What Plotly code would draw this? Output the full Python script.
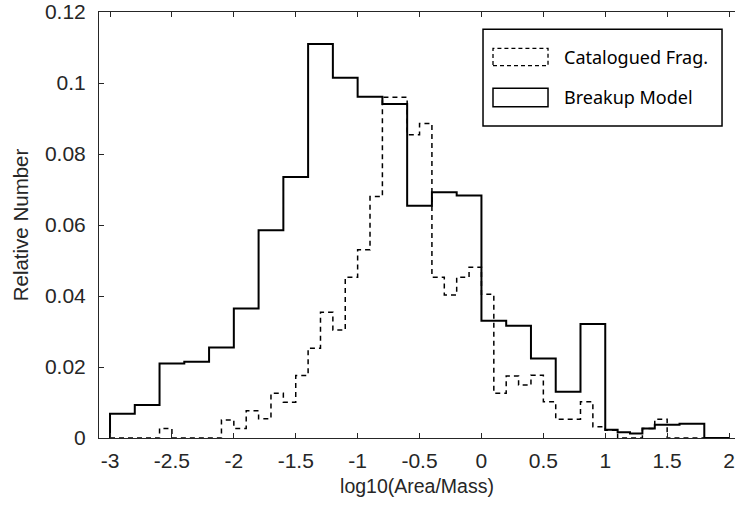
import plotly.graph_objects as go

# Bin edges for log10(Area/Mass), 0.1 wide from -3 to 2
BIN_EDGES = [round(-3.0 + 0.1 * i, 1) for i in range(51)]

# Relative number per bin: catalogued fragments
CATALOGUED = [
    0.0, 0.0, 0.0, 0.0, 0.0027, 0.0, 0.0, 0.0, 0.0, 0.0051,
    0.0027, 0.0077, 0.0054, 0.0126, 0.0101, 0.0176, 0.0253, 0.0354, 0.0304, 0.0453,
    0.0530, 0.0680, 0.0960, 0.0960, 0.0854, 0.0886, 0.0453, 0.0403, 0.0453, 0.0481,
    0.0405, 0.0126, 0.0175, 0.0149, 0.0177, 0.0102, 0.0053, 0.0053, 0.0102, 0.0032,
    0.0022, 0.0, 0.0, 0.0027, 0.0053, 0.0, 0.0, 0.0, 0.0, 0.0,
]

# Relative number per bin: breakup model
BREAKUP = [
    0.0068, 0.0068, 0.0093, 0.0093, 0.0210, 0.0210, 0.0215, 0.0215, 0.0255, 0.0255,
    0.0365, 0.0365, 0.0585, 0.0585, 0.0735, 0.0735, 0.1110, 0.1110, 0.1015, 0.1015,
    0.0961, 0.0961, 0.0941, 0.0941, 0.0654, 0.0654, 0.0692, 0.0692, 0.0683, 0.0683,
    0.0330, 0.0330, 0.0316, 0.0316, 0.0224, 0.0224, 0.0130, 0.0130, 0.0321, 0.0321,
    0.0023, 0.0016, 0.0013, 0.0027, 0.0037, 0.0037, 0.0040, 0.0040, 0.0, 0.0,
]

X_TICKS = [-3, -2.5, -2, -1.5, -1, -0.5, 0, 0.5, 1, 1.5, 2]
X_TICK_TEXT = ["-3", "-2.5", "-2", "-1.5", "-1", "-0.5", "0", "0.5", "1", "1.5", "2"]
Y_TICKS = [0, 0.02, 0.04, 0.06, 0.08, 0.1, 0.12]
Y_TICK_TEXT = ["0", "0.02", "0.04", "0.06", "0.08", "0.1", "0.12"]

LEGEND_LABELS = ["Catalogued Frag.", "Breakup Model"]

AXIS_COLOR = "#262626"
FONT_FAMILY = "Liberation Sans, Arial, sans-serif"
TICK_FONT = dict(family=FONT_FAMILY, size=21, color=AXIS_COLOR)


def stairs(edges, values):
    """Outline of a histogram: rise at the first edge, step across each bin, drop at the end."""
    xs = [edges[0]] + list(edges[:-1]) + [edges[-1], edges[-1]]
    ys = [0.0] + list(values) + [values[-1], 0.0]
    return xs, ys


fig = go.Figure()

cx, cy = stairs(BIN_EDGES, CATALOGUED)
fig.add_trace(go.Scatter(
    x=cx, y=cy, mode="lines", line_shape="hv",
    line=dict(color="black", width=1.5, dash="5px,4px"),
    name=LEGEND_LABELS[0], showlegend=False, hoverinfo="skip",
))

bx, by = stairs(BIN_EDGES, BREAKUP)
fig.add_trace(go.Scatter(
    x=bx, y=by, mode="lines", line_shape="hv",
    line=dict(color="black", width=2),
    name=LEGEND_LABELS[1], showlegend=False, hoverinfo="skip",
))

# Boxed legend with patch-style samples, placed in paper coordinates
legend_box = dict(x0=0.6038, x1=0.9796, y0=0.7324, y1=0.9594)
samples = [
    dict(x0=0.6195, x1=0.7060, y0=0.8740, y1=0.9148, dash="4px,3px", width=1.3),
    dict(x0=0.6195, x1=0.7060, y0=0.7777, y1=0.8209, dash="solid", width=1.5),
]
label_y = [0.8944, 0.7993]

fig.add_shape(type="rect", xref="paper", yref="paper", **legend_box,
              line=dict(color="black", width=1.5), fillcolor="white", layer="above")
for s, ly, text in zip(samples, label_y, LEGEND_LABELS):
    fig.add_shape(type="rect", xref="paper", yref="paper",
                  x0=s["x0"], x1=s["x1"], y0=s["y0"], y1=s["y1"],
                  line=dict(color="black", width=s["width"], dash=s["dash"]),
                  fillcolor="white", layer="above")
    fig.add_annotation(xref="paper", yref="paper", x=0.728, y=ly, text=text,
                       showarrow=False, xanchor="left", yanchor="middle",
                       font=dict(family="Noto Sans, sans-serif", size=18, color="black"))

fig.update_layout(
    width=735, height=506,
    margin=dict(l=99, r=0, t=12, b=68),
    paper_bgcolor="white", plot_bgcolor="white",
    showlegend=False,
)

fig.update_xaxes(
    range=[-3.089, 2.048],
    tickmode="array", tickvals=X_TICKS, ticktext=X_TICK_TEXT,
    ticks="inside", ticklen=5, tickwidth=1, tickcolor=AXIS_COLOR,
    showline=True, linecolor=AXIS_COLOR, linewidth=1, mirror="ticks",
    showgrid=False, zeroline=False,
    tickfont=TICK_FONT, ticklabelstandoff=4,
    title=dict(text="log10(Area/Mass)", font=dict(family=FONT_FAMILY, size=19.5, color=AXIS_COLOR),
               standoff=8),
)
fig.update_yaxes(
    range=[0, 0.12],
    tickmode="array", tickvals=Y_TICKS, ticktext=Y_TICK_TEXT,
    ticks="inside", ticklen=5, tickwidth=1, tickcolor=AXIS_COLOR,
    showline=True, linecolor=AXIS_COLOR, linewidth=1,
    showgrid=False, zeroline=False,
    tickfont=TICK_FONT, ticklabelstandoff=8,
    title=dict(text="Relative Number", font=dict(family=FONT_FAMILY, size=20.5, color=AXIS_COLOR),
               standoff=10),
)

fig.write_html("out.html")
